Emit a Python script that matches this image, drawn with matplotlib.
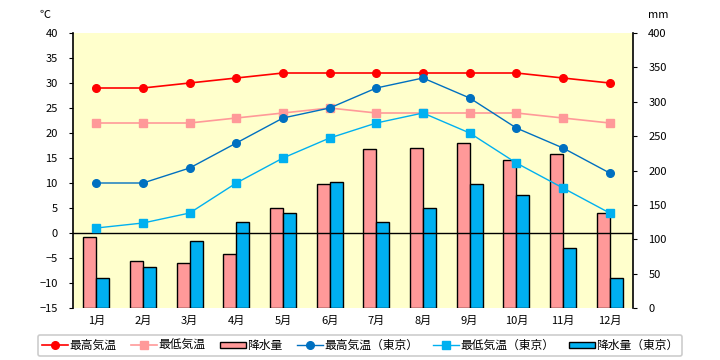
import numpy as np
import matplotlib
matplotlib.use('Agg')
import matplotlib.pyplot as plt
from matplotlib.patches import Patch
from matplotlib.lines import Line2D

plt.rcParams['font.family'] = ['Noto Sans CJK JP', 'DejaVu Sans']

months = ['1月', '2月', '3月', '4月', '5月', '6月', '7月', '8月', '9月', '10月', '11月', '12月']
t_max = [29, 29, 30, 31, 32, 32, 32, 32, 32, 32, 31, 30]
t_min = [22, 22, 22, 23, 24, 25, 24, 24, 24, 24, 23, 22]
rain = [104, 69, 66, 79, 146, 180, 231, 233, 240, 215, 224, 138]
tokyo_max = [10, 10, 13, 18, 23, 25, 29, 31, 27, 21, 17, 12]
tokyo_min = [1, 2, 4, 10, 15, 19, 22, 24, 20, 14, 9, 4]
tokyo_rain = [44, 59, 98, 125, 138, 184, 125, 146, 180, 164, 88, 44]

c_red = '#FF0000'
c_pink = '#FF9999'
c_blue = '#0070C0'
c_lblue = '#00B0F0'

fig = plt.figure(figsize=(7.2, 3.6), dpi=100)
ax = fig.add_axes([73 / 720, 52 / 360, 560 / 720, 275 / 360])
ax.set_facecolor('#FFFFCC')
x = np.arange(len(months))
w = 0.28
ax.bar(x - w / 2, rain, w, color=c_pink, edgecolor='black', linewidth=1)
ax.bar(x + w / 2, tokyo_rain, w, color=c_lblue, edgecolor='black', linewidth=1)
ax.set_ylim(0, 400)
ax.set_yticks(np.arange(0, 401, 50))
ax.set_xlim(-0.5, 11.5)
ax.set_xticks(x)
ax.set_xticklabels(months)

ax2 = ax.twinx()
ax2.patch.set_visible(False)
ax.yaxis.tick_right()
ax.yaxis.set_label_position('right')
ax2.yaxis.tick_left()
ax2.yaxis.set_label_position('left')

ax.tick_params(axis='x', length=0, pad=6, labelsize=8)
ax.tick_params(axis='y', labelsize=8, length=3, pad=8)
for s in ['top', 'bottom', 'left', 'right']:
    ax.spines[s].set_visible(False)

ax2.set_ylim(-15, 40)
ax2.set_yticks(np.arange(-15, 41, 5))
ax2.tick_params(axis='y', labelsize=8, length=3, pad=8)
for s in ['top', 'bottom']:
    ax2.spines[s].set_visible(False)
ax2.spines['left'].set_linewidth(1.2)
ax2.spines['right'].set_linewidth(1.2)
ax2.axhline(0, color='black', linewidth=1)
ax2.plot(x, t_max, '-o', color=c_red, lw=1.2, ms=5.5)
ax2.plot(x, t_min, '-s', color=c_pink, lw=1.2, ms=5.5)
ax2.plot(x, tokyo_max, '-o', color=c_blue, lw=1.0, ms=5.5)
ax2.plot(x, tokyo_min, '-s', color=c_lblue, lw=1.0, ms=5.5)

fig.text(45 / 720, 1 - 15 / 360, '℃', fontsize=8, ha='center', va='center')
fig.text(658 / 720, 1 - 15 / 360, 'mm', fontsize=8, ha='center', va='center')

handles = [
    Line2D([], [], color=c_red, marker='o', lw=1.2, ms=5.5),
    Line2D([], [], color=c_pink, marker='s', lw=1.2, ms=5.5),
    Patch(facecolor=c_pink, edgecolor='black'),
    Line2D([], [], color=c_blue, marker='o', lw=1.0, ms=5.5),
    Line2D([], [], color=c_lblue, marker='s', lw=1.0, ms=5.5),
    Patch(facecolor=c_lblue, edgecolor='black'),
]
labels = ['最高気温', '最低気温', '降水量', '最高気温（東京）', '最低気温（東京）', '降水量（東京）']
leg = fig.legend(handles, labels, ncol=6, loc='center', bbox_to_anchor=(360 / 720, 1 - 345.5 / 360),
                 fontsize=8.5, frameon=True, fancybox=True, handlelength=2.2, handleheight=0.45,
                 handletextpad=0.1, columnspacing=1.25, borderpad=0.35)
leg.get_frame().set_edgecolor('#C0C0C0')
leg.get_frame().set_linewidth(1.2)

fig.savefig('out.png', dpi=100)
